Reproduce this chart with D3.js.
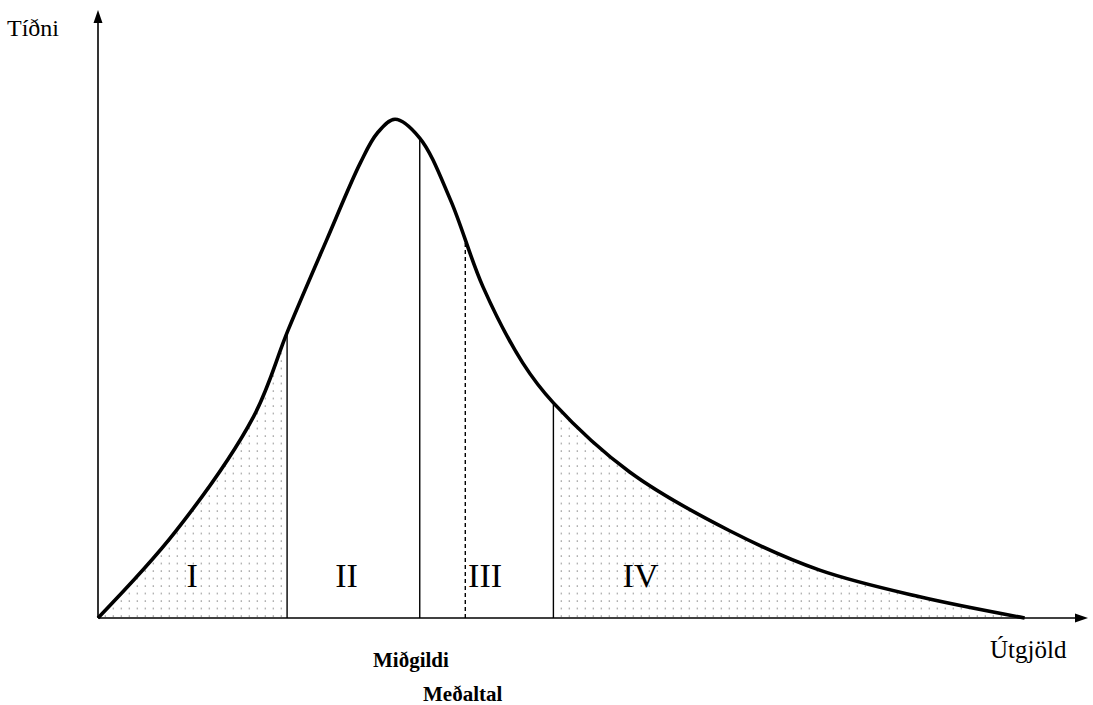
<!DOCTYPE html>
<html>
<head>
<meta charset="utf-8">
<script src="https://cdn.jsdelivr.net/npm/d3@7"></script>
<style>
  html, body { margin: 0; padding: 0; background: #fff; }
  svg { display: block; font-family: "Liberation Serif", "Times New Roman", serif; }
</style>
</head>
<body>
<svg id="chart" width="1093" height="705"></svg>
<script>
// Curve of the distribution (x: útgjöld, y: tíðni).
const spendX = [0, 7.8, 15.7, 19.2, 23.1, 26.5, 28.2, 30.0, 32.5, 35.6, 38.9, 42.9, 46.0, 53.7, 63.8, 72.9, 83.0, 93.6];
const freqY = [0, 14.2, 33.2, 47.5, 62.4, 75.1, 80.0, 82.3, 79.2, 69.0, 54.6, 42.1, 35.5, 24.1, 14.4, 7.9, 3.5, 0];

// Boundaries between the four groups; the mean is drawn dashed.
const boundaries = [19.1, 32.5, 37.1, 46.0];
const boundaryDashed = [false, false, true, false];

// Group labels and where they sit along x.
const groupLabels = ["I", "II", "III", "IV"];
const groupCenters = [9.5, 25.1, 39.1, 54.8];

const axisLabels = {x: "Útgjöld", y: "Tíðni"};
const medianLabel = "Miðgildi";
const meanLabel = "Meðaltal";

const svg = d3.select("#chart");
const x = d3.scaleLinear().domain([0, 100]).range([98, 1088]);
const y = d3.scaleLinear().domain([0, 100]).range([618, 12]);

const points = spendX.map((v, i) => [v, freqY[i]]);

// Dotted fill pattern for groups I and IV.
const defs = svg.append("defs");
const pat = defs.append("pattern")
  .attr("id", "dots")
  .attr("patternUnits", "userSpaceOnUse")
  .attr("width", 8)
  .attr("height", 7.5);
pat.append("circle")
  .attr("cx", 1.3)
  .attr("cy", 1.0)
  .attr("r", 0.8)
  .attr("fill", "#999");

const clip = defs.append("clipPath").attr("id", "tails");
clip.append("rect")
  .attr("x", x(0))
  .attr("y", y(100))
  .attr("width", x(boundaries[0]) - x(0))
  .attr("height", y(0) - y(100));
clip.append("rect")
  .attr("x", x(boundaries[3]))
  .attr("y", y(100))
  .attr("width", x(100) - x(boundaries[3]))
  .attr("height", y(0) - y(100));

const curve = d3.curveCatmullRom.alpha(0.5);

const area = d3.area()
  .x((d) => x(d[0]))
  .y0(y(0))
  .y1((d) => y(d[1]))
  .curve(curve);

svg.append("path")
  .attr("d", area(points))
  .attr("fill", "url(#dots)")
  .attr("clip-path", "url(#tails)");

// Main curve.
const line = d3.line()
  .x((d) => x(d[0]))
  .y((d) => y(d[1]))
  .curve(curve);

const curvePath = svg.append("path")
  .attr("d", line(points))
  .attr("fill", "none")
  .attr("stroke", "#000")
  .attr("stroke-width", 3.6)
  .attr("stroke-linejoin", "round");

// Find curve height at a given pixel x (curve is monotone in x).
function curveYAt(px) {
  const node = curvePath.node();
  let lo = 0, hi = node.getTotalLength();
  for (let k = 0; k < 40; k++) {
    const mid = (lo + hi) / 2;
    if (node.getPointAtLength(mid).x < px) lo = mid; else hi = mid;
  }
  return node.getPointAtLength((lo + hi) / 2).y;
}

// Vertical group boundaries.
boundaries.forEach((b, i) => {
  svg.append("line")
    .attr("x1", x(b))
    .attr("x2", x(b))
    .attr("y1", y(0))
    .attr("y2", curveYAt(x(b)) + 1.5)
    .attr("stroke", "#000")
    .attr("stroke-width", 1.4)
    .attr("stroke-dasharray", boundaryDashed[i] ? "4,3" : null);
});

// Axes with arrow heads.
const axisG = svg.append("g");
axisG.append("line")
  .attr("x1", x(0)).attr("x2", x(100) - 6)
  .attr("y1", y(0)).attr("y2", y(0))
  .attr("stroke", "#000").attr("stroke-width", 1.6);
axisG.append("line")
  .attr("x1", x(0)).attr("x2", x(0))
  .attr("y1", y(0)).attr("y2", y(100) + 8)
  .attr("stroke", "#000").attr("stroke-width", 1.6);
axisG.append("path")
  .attr("d", `M${x(100)},${y(0)} l-13,-4.5 l0,9 z`)
  .attr("fill", "#000");
axisG.append("path")
  .attr("d", `M${x(0)},${y(100) - 2} l-4.5,13 l9,0 z`)
  .attr("fill", "#000");

// Group labels.
svg.selectAll("text.group")
  .data(groupLabels)
  .join("text")
  .attr("class", "group")
  .attr("x", (d, i) => x(groupCenters[i]))
  .attr("y", y(0) - 31)
  .attr("text-anchor", "middle")
  .attr("font-size", 34)
  .text((d) => d);

// Axis titles.
svg.append("text")
  .attr("x", 7)
  .attr("y", 36)
  .attr("font-size", 24)
  .text(axisLabels.y);
svg.append("text")
  .attr("x", 990)
  .attr("y", 658)
  .attr("font-size", 25)
  .text(axisLabels.x);

// Median and mean captions.
svg.append("text")
  .attr("x", 373)
  .attr("y", 667)
  .attr("font-size", 21)
  .attr("font-weight", "bold")
  .text(medianLabel);
svg.append("text")
  .attr("x", 423)
  .attr("y", 701)
  .attr("font-size", 21)
  .attr("font-weight", "bold")
  .text(meanLabel);
</script>
</body>
</html>
